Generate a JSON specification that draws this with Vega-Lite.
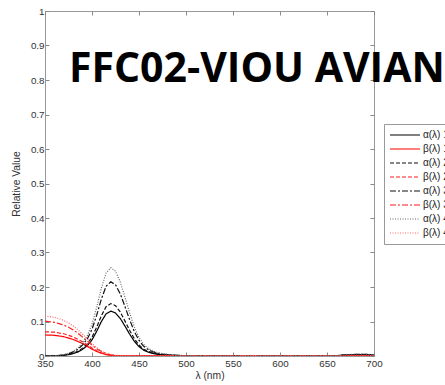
{
  "$schema": "https://vega.github.io/schema/vega-lite/v6.json",
  "width": 329,
  "height": 345,
  "autosize": "none",
  "padding": {"left": 45, "top": 11, "right": 71, "bottom": 29},
  "background": "white",
  "config": {
    "view": {"stroke": "#999", "strokeWidth": 1},
    "font": "Liberation Sans",
    "axis": {
      "domain": false,
      "grid": false,
      "tickColor": "#888",
      "tickSize": -4,
      "labelFont": "Liberation Sans",
      "labelFontSize": 9.8,
      "labelColor": "#333",
      "titleFont": "Liberation Sans",
      "titleFontSize": 10.3,
      "titleFontWeight": "normal",
      "titleColor": "#333"
    }
  },
  "data": {
    "values": [
      {"wl": 350, "a1": 0, "a2": 0, "a3": 0, "a4": 0, "b1": 0.061, "b2": 0.07, "b3": 0.101, "b4": 0.116},
      {"wl": 355, "a1": 0, "a2": 0, "a3": 0, "a4": 0.0002, "b1": 0.0605, "b2": 0.0696, "b3": 0.0992, "b4": 0.114},
      {"wl": 360, "a1": 0.0004, "a2": 0.0005, "a3": 0.0006, "a4": 0.0008, "b1": 0.06, "b2": 0.069, "b3": 0.0974, "b4": 0.112},
      {"wl": 365, "a1": 0.001, "a2": 0.0012, "a3": 0.0017, "a4": 0.002, "b1": 0.058, "b2": 0.0667, "b3": 0.094, "b4": 0.108},
      {"wl": 370, "a1": 0.002, "a2": 0.0023, "a3": 0.0032, "a4": 0.0038, "b1": 0.056, "b2": 0.0644, "b3": 0.0896, "b4": 0.103},
      {"wl": 375, "a1": 0.0039, "a2": 0.0046, "a3": 0.0065, "a4": 0.0077, "b1": 0.052, "b2": 0.0598, "b3": 0.0835, "b4": 0.096},
      {"wl": 380, "a1": 0.0072, "a2": 0.0084, "a3": 0.0118, "a4": 0.0141, "b1": 0.048, "b2": 0.0552, "b3": 0.0757, "b4": 0.087},
      {"wl": 385, "a1": 0.0117, "a2": 0.0137, "a3": 0.0194, "a4": 0.023, "b1": 0.042, "b2": 0.0483, "b3": 0.0661, "b4": 0.076},
      {"wl": 390, "a1": 0.0195, "a2": 0.0228, "a3": 0.0323, "a4": 0.0384, "b1": 0.036, "b2": 0.0414, "b3": 0.0548, "b4": 0.063},
      {"wl": 395, "a1": 0.0299, "a2": 0.035, "a3": 0.0495, "a4": 0.0589, "b1": 0.028, "b2": 0.0322, "b3": 0.0435, "b4": 0.05},
      {"wl": 400, "a1": 0.0468, "a2": 0.0547, "a3": 0.0774, "a4": 0.0922, "b1": 0.02, "b2": 0.023, "b3": 0.0313, "b4": 0.036},
      {"wl": 405, "a1": 0.0715, "a2": 0.0836, "a3": 0.1183, "a4": 0.1408, "b1": 0.013, "b2": 0.015, "b3": 0.0209, "b4": 0.024},
      {"wl": 410, "a1": 0.1001, "a2": 0.117, "a3": 0.1656, "a4": 0.1971, "b1": 0.008, "b2": 0.0092, "b3": 0.0131, "b4": 0.015},
      {"wl": 415, "a1": 0.1222, "a2": 0.1429, "a3": 0.2021, "a4": 0.2406, "b1": 0.004, "b2": 0.0046, "b3": 0.007, "b4": 0.008},
      {"wl": 420, "a1": 0.13, "a2": 0.152, "a3": 0.215, "a4": 0.256, "b1": 0.002, "b2": 0.0023, "b3": 0.0035, "b4": 0.004},
      {"wl": 425, "a1": 0.1248, "a2": 0.1459, "a3": 0.2064, "a4": 0.2458, "b1": 0.001, "b2": 0.0012, "b3": 0.0017, "b4": 0.002},
      {"wl": 430, "a1": 0.1092, "a2": 0.1277, "a3": 0.1806, "a4": 0.215, "b1": 0.0005, "b2": 0.0006, "b3": 0.0009, "b4": 0.001},
      {"wl": 435, "a1": 0.0871, "a2": 0.1018, "a3": 0.1441, "a4": 0.1715, "b1": 0.0003, "b2": 0.0004, "b3": 0.0005, "b4": 0.0006},
      {"wl": 440, "a1": 0.0637, "a2": 0.0745, "a3": 0.1054, "a4": 0.1254, "b1": 0.0002, "b2": 0.0003, "b3": 0.0004, "b4": 0.0004},
      {"wl": 445, "a1": 0.0429, "a2": 0.0502, "a3": 0.071, "a4": 0.0845, "b1": 0.0002, "b2": 0.0002, "b3": 0.0003, "b4": 0.0003},
      {"wl": 450, "a1": 0.0273, "a2": 0.0319, "a3": 0.0452, "a4": 0.0538, "b1": 0.0002, "b2": 0.0002, "b3": 0.0002, "b4": 0.0003},
      {"wl": 455, "a1": 0.0169, "a2": 0.0198, "a3": 0.028, "a4": 0.0333, "b1": 0.0002, "b2": 0.0002, "b3": 0.0002, "b4": 0.0002},
      {"wl": 460, "a1": 0.0111, "a2": 0.0129, "a3": 0.0183, "a4": 0.0218, "b1": 0.0002, "b2": 0.0002, "b3": 0.0002, "b4": 0.0002},
      {"wl": 465, "a1": 0.0072, "a2": 0.0084, "a3": 0.0118, "a4": 0.0141, "b1": 0.0002, "b2": 0.0002, "b3": 0.0002, "b4": 0.0002},
      {"wl": 470, "a1": 0.0049, "a2": 0.0058, "a3": 0.0082, "a4": 0.0097, "b1": 0.0002, "b2": 0.0002, "b3": 0.0002, "b4": 0.0002},
      {"wl": 475, "a1": 0.0035, "a2": 0.0041, "a3": 0.0058, "a4": 0.0069, "b1": 0.0002, "b2": 0.0002, "b3": 0.0002, "b4": 0.0002},
      {"wl": 480, "a1": 0.0026, "a2": 0.003, "a3": 0.0043, "a4": 0.0051, "b1": 0.0002, "b2": 0.0002, "b3": 0.0002, "b4": 0.0002},
      {"wl": 485, "a1": 0.0018, "a2": 0.0021, "a3": 0.003, "a4": 0.0036, "b1": 0.0002, "b2": 0.0002, "b3": 0.0002, "b4": 0.0002},
      {"wl": 490, "a1": 0.0013, "a2": 0.0015, "a3": 0.0022, "a4": 0.0026, "b1": 0.0002, "b2": 0.0002, "b3": 0.0002, "b4": 0.0002},
      {"wl": 495, "a1": 0.0009, "a2": 0.0011, "a3": 0.0015, "a4": 0.0018, "b1": 0.0002, "b2": 0.0002, "b3": 0.0002, "b4": 0.0002},
      {"wl": 500, "a1": 0.0007, "a2": 0.0008, "a3": 0.0011, "a4": 0.0013, "b1": 0.0002, "b2": 0.0002, "b3": 0.0002, "b4": 0.0002},
      {"wl": 510, "a1": 0.0005, "a2": 0.0006, "a3": 0.0007, "a4": 0.0008, "b1": 0.0002, "b2": 0.0002, "b3": 0.0002, "b4": 0.0002},
      {"wl": 520, "a1": 0.0004, "a2": 0.0005, "a3": 0.0006, "a4": 0.0006, "b1": 0.0002, "b2": 0.0002, "b3": 0.0002, "b4": 0.0002},
      {"wl": 530, "a1": 0.0003, "a2": 0.0004, "a3": 0.0005, "a4": 0.0005, "b1": 0.0002, "b2": 0.0002, "b3": 0.0002, "b4": 0.0002},
      {"wl": 540, "a1": 0.0004, "a2": 0.0003, "a3": 0.0004, "a4": 0.0006, "b1": 0.0002, "b2": 0.0002, "b3": 0.0002, "b4": 0.0002},
      {"wl": 550, "a1": 0.0003, "a2": 0.0004, "a3": 0.0005, "a4": 0.0004, "b1": 0.0002, "b2": 0.0002, "b3": 0.0002, "b4": 0.0003},
      {"wl": 560, "a1": 0.0003, "a2": 0.0003, "a3": 0.0004, "a4": 0.0005, "b1": 0.0006, "b2": 0.0007, "b3": 0.0008, "b4": 0.0008},
      {"wl": 570, "a1": 0.0004, "a2": 0.0004, "a3": 0.0005, "a4": 0.0005, "b1": 0.0013, "b2": 0.0014, "b3": 0.0015, "b4": 0.0016},
      {"wl": 580, "a1": 0.0003, "a2": 0.0004, "a3": 0.0004, "a4": 0.0005, "b1": 0.0005, "b2": 0.0006, "b3": 0.0006, "b4": 0.0007},
      {"wl": 590, "a1": 0.0003, "a2": 0.0003, "a3": 0.0004, "a4": 0.0004, "b1": 0.0002, "b2": 0.0002, "b3": 0.0002, "b4": 0.0002},
      {"wl": 600, "a1": 0.0004, "a2": 0.0004, "a3": 0.0005, "a4": 0.0005, "b1": 0.0002, "b2": 0.0002, "b3": 0.0002, "b4": 0.0002},
      {"wl": 610, "a1": 0.0003, "a2": 0.0003, "a3": 0.0004, "a4": 0.0004, "b1": 0.0002, "b2": 0.0002, "b3": 0.0002, "b4": 0.0002},
      {"wl": 620, "a1": 0.0003, "a2": 0.0004, "a3": 0.0004, "a4": 0.0005, "b1": 0.0002, "b2": 0.0002, "b3": 0.0002, "b4": 0.0002},
      {"wl": 630, "a1": 0.0004, "a2": 0.0004, "a3": 0.0005, "a4": 0.0005, "b1": 0.0002, "b2": 0.0002, "b3": 0.0002, "b4": 0.0002},
      {"wl": 640, "a1": 0.0003, "a2": 0.0003, "a3": 0.0004, "a4": 0.0004, "b1": 0.0002, "b2": 0.0002, "b3": 0.0002, "b4": 0.0002},
      {"wl": 650, "a1": 0.0004, "a2": 0.0004, "a3": 0.0005, "a4": 0.0006, "b1": 0.0002, "b2": 0.0002, "b3": 0.0002, "b4": 0.0002},
      {"wl": 660, "a1": 0.0008, "a2": 0.0009, "a3": 0.001, "a4": 0.0012, "b1": 0.0002, "b2": 0.0002, "b3": 0.0002, "b4": 0.0002},
      {"wl": 670, "a1": 0.0025, "a2": 0.003, "a3": 0.0035, "a4": 0.004, "b1": 0.0003, "b2": 0.0003, "b3": 0.0003, "b4": 0.0003},
      {"wl": 680, "a1": 0.0035, "a2": 0.004, "a3": 0.0045, "a4": 0.005, "b1": 0.0003, "b2": 0.0003, "b3": 0.0003, "b4": 0.0003},
      {"wl": 690, "a1": 0.004, "a2": 0.0045, "a3": 0.005, "a4": 0.0055, "b1": 0.0003, "b2": 0.0003, "b3": 0.0003, "b4": 0.0003},
      {"wl": 700, "a1": 0.002, "a2": 0.0025, "a3": 0.003, "a4": 0.003, "b1": 0.0002, "b2": 0.0002, "b3": 0.0002, "b4": 0.0002}
    ]
  },
  "layer": [
    {
      "transform": [{"fold": ["a1", "b1", "a2", "b2", "a3", "b3", "a4", "b4"], "as": ["series", "value"]}],
      "mark": {"type": "line", "strokeWidth": 1.2, "clip": true},
      "encoding": {
        "x": {
          "field": "wl", "type": "quantitative",
          "scale": {"domain": [350, 700], "nice": false, "zero": false},
          "axis": {"title": "λ (nm)", "values": [350, 400, 450, 500, 550, 600, 650, 700], "labelPadding": 6, "titlePadding": 3, "labelFlush": false}
        },
        "y": {
          "field": "value", "type": "quantitative",
          "scale": {"domain": [0, 1], "nice": false},
          "axis": {"title": "Relative Value", "values": [0, 0.1, 0.2, 0.3, 0.4, 0.5, 0.6, 0.7, 0.8, 0.9, 1], "format": "~g", "labelPadding": 5, "titlePadding": 9, "labelFlush": false}
        },
        "color": {
          "field": "series", "type": "nominal",
          "scale": {"domain": ["a1", "b1", "a2", "b2", "a3", "b3", "a4", "b4"], "range": ["#000000", "#ff0000", "#111111", "#ff1a1a", "#111111", "#ff1a1a", "#666666", "#ff6666"]},
          "legend": {
            "orient": "none", "legendX": 339, "legendY": 113, "title": null,
            "symbolType": "stroke", "symbolSize": 900, "symbolStrokeWidth": 1.2,
            "labelFont": "Liberation Sans", "labelFontSize": 10, "labelColor": "#222",
            "strokeColor": "#999", "fillColor": "white", "padding": 5,
            "labelOffset": 2, "rowPadding": 2, "clipHeight": 12,
            "labelExpr": "(substring(datum.label,0,1)=='a' ? 'α(λ) ' : 'β(λ) ') + substring(datum.label,1,2) + ' mm'"
          }
        },
        "strokeDash": {
          "field": "series", "type": "nominal",
          "scale": {"domain": ["a1", "b1", "a2", "b2", "a3", "b3", "a4", "b4"], "range": [[1, 0], [1, 0], [4, 2], [4, 2], [6, 2, 2, 2], [6, 2, 2, 2], [1, 1.5], [1, 1.5]]},
          "legend": {
            "orient": "none", "legendX": 339, "legendY": 113, "title": null,
            "symbolType": "stroke", "symbolSize": 900, "symbolStrokeWidth": 1.2,
            "labelFont": "Liberation Sans", "labelFontSize": 10, "labelColor": "#222",
            "strokeColor": "#999", "fillColor": "white", "padding": 5,
            "labelOffset": 2, "rowPadding": 2, "clipHeight": 12,
            "labelExpr": "(substring(datum.label,0,1)=='a' ? 'α(λ) ' : 'β(λ) ') + substring(datum.label,1,2) + ' mm'"
          }
        }
      }
    },
    {
      "mark": {"type": "point", "opacity": 0},
      "encoding": {
        "x": {"field": "wl", "type": "quantitative", "axis": {"orient": "top", "labels": false, "title": null, "values": [350, 400, 450, 500, 550, 600, 650, 700]}},
        "y": {"field": "a1", "type": "quantitative", "axis": {"orient": "right", "labels": false, "title": null, "values": [0, 0.1, 0.2, 0.3, 0.4, 0.5, 0.6, 0.7, 0.8, 0.9, 1]}}
      }
    },
    {
      "data": {"values": [{"label": "FFC02-VIOU AVIAN"}]},
      "mark": {"type": "text", "font": "Open Sans", "fontWeight": "bold", "fontSize": 41, "align": "left", "baseline": "alphabetic", "color": "#000"},
      "encoding": {
        "text": {"field": "label"},
        "x": {"datum": 375.5, "type": "quantitative", "axis": null},
        "y": {"datum": 0.795, "type": "quantitative", "axis": null}
      }
    }
  ],
  "resolve": {"axis": {"x": "independent", "y": "independent"}}
}
